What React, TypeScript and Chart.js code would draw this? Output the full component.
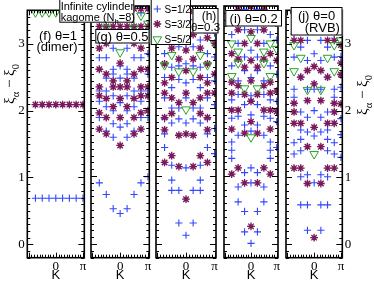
import React, { useEffect, useRef } from 'react';
import { Chart, registerables } from 'chart.js';
import { drawPoint } from 'chart.js/helpers';

Chart.register(...registerables);

type Pt = [number, number]; // [K / π, ξα − ξ0]

const yMin = -0.2;
const yMax = 3.5;
const kSpanPi = 1.05;
const yTickValues = [0, 1, 2, 3];
const xTickValuesPi = [0, 1];
const xTickLabels = ['0', 'π'];
const seriesLabels = ['S=1/2', 'S=3/2', 'S=5/2'];

// (f) θ=1 (dimer)
const fHalf: Pt[] = [[-0.75,0.69],[-0.5,0.69],[-0.25,0.69],[0,0.69],[0.25,0.69],[0.5,0.69],[0.75,0.69],[1,0.69]];
const fThree: Pt[] = [[-0.75,2.09],[-0.5,2.09],[-0.25,2.09],[0,2.09],[0.25,2.09],[0.5,2.09],[0.75,2.09],[1,2.09]];
const fFive: Pt[] = [[-0.75,3.47],[-0.5,3.47],[-0.25,3.47],[0,3.47],[0.25,3.47],[0.5,3.47],[0.75,3.47],[1,3.47]];

// (g) θ=0.5
const gHalf: Pt[] = [
  [0,0.45],[-0.25,0.52],[0.25,0.52],[-0.5,0.73],[0.5,0.73],[-0.75,0.90],[0.75,0.90],[1,0.99],
  [-0.25,1.57],[0.25,1.57],[-0.5,1.66],[0.5,1.66],[0,1.72],[-0.25,1.77],[0.25,1.77],[-0.75,1.86],[0.75,1.86],[1,1.86],
  [-0.25,1.96],[0.25,1.96],[-0.5,2.02],[0.5,2.02],[0,2.08],[-0.75,2.10],[0.75,2.10],
  [-0.25,2.18],[0.25,2.18],[-0.75,2.25],[0.75,2.25],[1,2.25],[-0.5,2.25],[0.5,2.25],
  [-0.5,2.44],[0.5,2.44],[0,2.44],[-0.25,2.50],[0.25,2.50],[-0.25,2.57],[0.25,2.57],[1,2.50],
  [-0.75,2.74],[0.75,2.74],[-0.5,2.74],[0.5,2.74],[0,2.62],[-0.25,2.88],[0.25,2.88],[1,2.80],
  [-0.75,3.08],[0.75,3.08],[0,3.10],[-0.5,3.15],[0.5,3.15],[1,3.12],[-0.25,3.28],[0.25,3.28],[-0.75,3.40],[0.75,3.40],
];
const gThree: Pt[] = [
  [0,1.45],[-0.5,1.62],[0.5,1.62],[-0.75,1.69],[0.75,1.69],[0,1.86],[-0.5,1.86],[0.5,1.86],[-0.75,1.93],[0.75,1.93],[1,1.96],
  [-0.25,2.02],[0.25,2.02],[0,2.14],[-0.5,2.14],[0.5,2.14],[-0.75,2.18],[0.75,2.18],[1,2.18],
  [-0.75,2.31],[0.75,2.31],[-0.25,2.31],[0.25,2.31],[0,2.31],[1,2.31],[-0.25,2.40],[0.25,2.40],
  [-0.5,2.50],[0.5,2.50],[-0.75,2.57],[0.75,2.57],[1,2.57],[0,2.66],[-0.75,2.88],[0.75,2.88],[-0.5,2.95],[0.5,2.95],
  [-0.75,3.20],[-0.5,3.20],[-0.25,3.20],[0,3.20],[0.25,3.20],[0.5,3.20],[0.75,3.20],[1,3.20],[-0.5,3.46],[0.5,3.46],[0.75,3.46],[1,3.46],
];
const gFive: Pt[] = [[0,2.82],[-0.5,3.18],[0.5,3.18],[1,3.24],[-0.75,3.36],[0.75,3.36],[-0.25,3.45],[0.25,3.45]];

// (h) θ=0.3
const hHalf: Pt[] = [
  [0,0.13],[-0.25,0.31],[0.25,0.31],[-0.25,0.79],[0.25,0.79],[-0.5,0.79],[0.5,0.79],[-0.5,0.94],[0.5,0.94],[0,1.12],[-0.5,1.16],[0.5,1.16],[-0.75,1.42],[0.75,1.42],[1,1.33],
  [-0.75,1.62],[0.75,1.62],[-0.5,1.78],[0.5,1.78],[0,1.78],[1,1.70],[-0.25,1.84],[0.25,1.84],[-0.75,1.84],[0.75,1.84],
  [-0.25,2.00],[0.25,2.00],[-0.5,2.00],[0.5,2.00],[1,2.05],[0,2.15],[-0.75,2.15],[0.75,2.15],
  [-0.5,2.30],[0.5,2.30],[0,2.37],[-0.25,2.42],[0.25,2.42],[1,2.40],[-0.75,2.45],[0.75,2.45],
  [-0.25,2.62],[0.25,2.62],[0,2.65],[-0.5,2.60],[0.5,2.60],[-0.75,2.80],[0.75,2.80],[1,2.75],
  [-0.25,2.90],[0.25,2.90],[0,2.95],[-0.5,3.00],[0.5,3.00],[-0.75,3.10],[0.75,3.10],[1,3.10],[0,3.25],[-0.25,3.30],[0.25,3.30],[-0.5,3.40],[0.5,3.40],
];
const hThree: Pt[] = [
  [0,0.66],[-0.25,1.14],[0.25,1.14],[-0.5,1.30],[0.5,1.30],[-0.75,1.20],[0.75,1.20],
  [-0.25,1.60],[0.25,1.60],[-0.75,1.68],[0.75,1.68],[0,1.62],[-0.75,1.86],[0.75,1.86],[-0.5,1.92],[0.5,1.92],
  [-0.25,2.08],[0.25,2.08],[-0.75,2.22],[0.75,2.22],[1,2.22],[0,2.22],[-0.5,2.15],[0.5,2.15],
  [-0.75,2.37],[0.75,2.37],[-0.5,2.45],[0.5,2.45],[0,2.55],[1,2.50],[-0.25,2.72],[0.25,2.72],[-0.75,2.65],[0.75,2.65],
  [-0.5,2.88],[0.5,2.88],[0,2.85],[-0.75,3.03],[0.75,3.03],[1,2.95],[-0.25,3.08],[0.25,3.08],[0,3.15],[-0.5,3.20],[0.5,3.20],[1,3.25],[-0.75,3.30],[0.75,3.30],[-0.25,3.42],[0.25,3.42],[0,3.48],
];
const hFive: Pt[] = [[0,1.98],[-0.25,2.54],[0.25,2.54],[-0.75,2.63],[0.75,2.63],[-0.5,2.78],[0.5,2.78],[1,2.95],[0.5,3.49]];

// (i) θ=0.2
const iHalf: Pt[] = [
  [0,0.01],[-0.25,0.18],[0.25,0.18],[-0.25,0.48],[0.25,0.48],[-0.5,0.62],[0.5,0.62],[0,0.90],[-0.5,0.84],[0.5,0.84],[-0.75,1.26],[0.75,1.26],[-0.75,1.38],[0.75,1.38],[-0.75,1.50],[0.75,1.50],[1,1.42],[0,1.12],[-0.25,1.05],[0.25,1.05],
  [-0.5,1.60],[0.5,1.60],[0,1.66],[-0.25,1.75],[0.25,1.75],[-0.5,1.88],[0.5,1.88],[1,1.80],[-0.75,1.85],[0.75,1.85],[0,1.90],
  [-0.25,2.05],[0.25,2.05],[-0.75,2.12],[0.75,2.12],[0,2.18],[-0.5,2.20],[0.5,2.20],[1,2.10],
  [-0.5,2.40],[0.5,2.40],[0,2.45],[-0.25,2.55],[0.25,2.55],[1,2.50],[-0.75,2.62],[0.75,2.62],
  [-0.25,2.75],[0.25,2.75],[0,2.85],[-0.5,2.95],[0.5,2.95],[-0.75,3.08],[0.75,3.08],[1,3.00],[-0.25,3.15],[0.25,3.15],[0,3.30],[-0.5,3.30],[0.5,3.30],[-0.25,3.45],[0.25,3.45],
];
const iThree: Pt[] = [
  [0,0.26],[-0.25,0.90],[0.25,0.90],[-0.75,1.03],[0.75,1.03],[-0.5,1.12],[0.5,1.12],
  [-0.25,1.63],[0.25,1.63],[-0.75,1.69],[0.75,1.69],[0,1.80],[-0.75,1.97],[0.75,1.97],[-0.5,1.97],[0.5,1.97],[1,1.95],
  [0,2.10],[-0.25,2.20],[0.25,2.20],[-0.75,2.22],[0.75,2.22],[1,2.25],[-0.5,2.33],[0.5,2.33],[0,2.40],[-0.75,2.38],[0.75,2.38],
  [-0.25,2.60],[0.25,2.60],[-0.5,2.72],[0.5,2.72],[0,2.70],[1,2.70],[-0.75,2.80],[0.75,2.80],[-0.25,2.95],[0.25,2.95],[0,3.12],[-0.5,3.15],[0.5,3.15],[-0.75,3.28],[0.75,3.28],[1,3.25],[-0.25,3.38],[0.25,3.38],[0,3.49],[-0.5,3.45],[0.5,3.45],
];
const iFive: Pt[] = [[0,1.57],[-0.25,2.29],[0.25,2.29],[-0.75,2.47],[0.75,2.47],[-0.5,2.66],[0.5,2.66],[-0.5,2.83],[0.5,2.83],[-0.75,2.95],[0.75,2.95],[1,2.87],[0,3.03]];

// (j) θ=0 (RVB)
const jHalf: Pt[] = [
  [-0.25,0.21],[0.25,0.21],[-0.5,0.59],[0.5,0.59],[-0.25,0.59],[0.25,0.59],[0,0.92],[-0.5,1.01],[0.5,1.01],[-0.25,1.04],[0.25,1.04],[-0.75,1.35],[0.75,1.35],[-0.5,1.40],[0.5,1.40],[1,1.30],
  [-0.5,1.57],[0.5,1.57],[-0.75,1.52],[0.75,1.52],[0,1.62],[-0.25,1.68],[0.25,1.68],[-0.5,1.71],[0.5,1.71],[1,1.64],
  [-0.5,1.98],[0.5,1.98],[-0.25,1.90],[0.25,1.90],[0,2.00],[1,1.88],[-0.75,2.20],[0.75,2.20],
  [-0.75,2.32],[0.75,2.32],[-0.25,2.32],[0.25,2.32],[0,2.32],[1,2.35],[-0.5,2.50],[0.5,2.50],
  [-0.25,2.75],[0.25,2.75],[0,2.85],[-0.75,2.80],[0.75,2.80],[1,2.81],[-0.5,2.95],[0.5,2.95],[-0.25,3.05],[0.25,3.05],[0,3.18],[-0.75,3.15],[0.75,3.15],[1,3.20],[-0.5,3.30],[0.5,3.30],[0,3.42],[-0.25,3.45],[0.25,3.45],
];
const jThree: Pt[] = [
  [0,0.10],[-0.25,0.91],[0.25,0.91],[-0.75,1.14],[0.75,1.14],[-0.5,1.14],[0.5,1.14],[-0.25,1.46],[0.25,1.46],
  [-0.75,1.81],[-0.5,1.81],[0.5,1.81],[0.75,1.81],[0,1.75],[-0.75,1.98],[0.75,1.98],[-0.75,2.11],[0.75,2.11],[1,2.10],[-0.25,2.15],[0.25,2.15],
  [0,2.40],[-0.5,2.50],[0.5,2.50],[1,2.54],[0,2.66],[-0.25,2.60],[0.25,2.60],[1,2.71],
  [-0.75,3.05],[-0.5,3.05],[0.5,3.05],[0.75,3.05],[1,2.98],[-0.25,3.20],[0.25,3.20],[0,3.30],[-0.75,3.45],[-0.5,3.45],[0.5,3.45],[0.75,3.45],[1,3.46],[0,3.48],
];
const jFive: Pt[] = [[0,1.35],[-0.25,2.31],[0.25,2.31],[-0.75,2.59],[0.75,2.59],[-0.5,2.79],[0.5,2.79],[-0.75,2.98],[0.75,2.98],[1,3.05]];

// ---------- styling ----------
const SANS = '"Liberation Sans", Arial, Helvetica, sans-serif';
const SERIF = '"Liberation Serif", "Times New Roman", serif';
const BLUE = 'rgb(50,70,255)';
const PURPLE = 'rgb(120,25,90)';
const PINK = 'rgba(205,140,190,0.75)';
const GREEN = 'rgb(40,165,40)';
const H = 281;
const PLOT_TOP = 3;
const X_AXIS_H = 23.3;

const markerStyles = [
  { pointStyle: 'cross', radius: 3.6, rotation: 0, borderWidth: 1.1, color: BLUE },
  { pointStyle: 'star', radius: 3.9, rotation: 0, borderWidth: 1.3, color: PURPLE },
  { pointStyle: 'triangle', radius: 5, rotation: 180, borderWidth: 1, color: GREEN },
];
const haloStyle = { pointStyle: 'circle', radius: 2.6 };

type Part = { t: string; sub?: boolean };

function drawRich(ctx: CanvasRenderingContext2D, parts: Part[], x: number, y: number, size: number, family: string, align: 'left' | 'center' | 'right' = 'left') {
  const subSize = size * 0.7;
  const fontOf = (p: Part) => `${p.sub ? subSize : size}px ${family}`;
  let total = 0;
  for (const p of parts) { ctx.font = fontOf(p); total += ctx.measureText(p.t).width; }
  let cx = align === 'left' ? x : align === 'center' ? x - total / 2 : x - total;
  ctx.textAlign = 'left';
  ctx.textBaseline = 'alphabetic';
  for (const p of parts) {
    ctx.font = fontOf(p);
    ctx.fillText(p.t, cx, p.sub ? y + size * 0.3 : y);
    cx += ctx.measureText(p.t).width;
  }
}

function box(ctx: CanvasRenderingContext2D, x0: number, y0: number, x1: number, y1: number) {
  ctx.fillStyle = '#fff';
  ctx.fillRect(x0, y0, x1 - x0, y1 - y0);
  ctx.strokeStyle = '#000';
  ctx.lineWidth = 1;
  ctx.strokeRect(x0 + 0.5, y0 + 0.5, x1 - x0 - 1, y1 - y0 - 1);
  ctx.fillStyle = '#000';
}

const yTitleParts: Part[] = [{ t: 'ξ' }, { t: 'α', sub: true }, { t: ' − ' }, { t: 'ξ' }, { t: '0', sub: true }];

function yTitle(ctx: CanvasRenderingContext2D, x: number, y: number) {
  ctx.save();
  ctx.translate(x, y);
  ctx.rotate(-Math.PI / 2);
  ctx.fillStyle = '#000';
  drawRich(ctx, yTitleParts, 0, 0, 15, SERIF, 'center');
  ctx.restore();
}

type Panel = {
  id: string;
  half: Pt[]; three: Pt[]; five: Pt[];
  cl: number; cw: number; padL: number; padR: number;
  yAxis: 'left' | 'right' | null; yAxisW: number;
  overlay: (ctx: CanvasRenderingContext2D, ox: number) => void;
};

const panels: Panel[] = [
  {
    id: 'f', half: fHalf, three: fThree, five: fFive,
    cl: 0, cw: 92, padL: 0, padR: 7.7, yAxis: 'left', yAxisW: 27.3,
    overlay: (ctx, ox) => {
      ctx.fillStyle = '#000';
      drawRich(ctx, [{ t: '(f) θ=1' }], 58 - ox, 39.5, 13, SANS, 'center');
      drawRich(ctx, [{ t: '(dimer)' }], 57 - ox, 51, 13, SANS, 'center');
      yTitle(ctx, 14 - ox, 84);
    },
  },
  {
    id: 'g', half: gHalf, three: gThree, five: gFive,
    cl: 56, cw: 100, padL: 35, padR: 6.7, yAxis: null, yAxisW: 0,
    overlay: (ctx, ox) => {
      box(ctx, 59.3 - ox, -1, 134.3 - ox, 22.7);
      drawRich(ctx, [{ t: 'Infinite cylinder' }], 60.7 - ox, 9.5, 11, SANS);
      drawRich(ctx, [{ t: 'kagome (N' }, { t: 'h', sub: true }, { t: '=8)' }], 60.7 - ox, 20.6, 11, SANS);
      box(ctx, 95.3 - ox, 29, 149.5 - ox, 43.5);
      drawRich(ctx, [{ t: '(g) θ=0.5' }], 122.4 - ox, 40.8, 13, SANS, 'center');
    },
  },
  {
    id: 'h', half: hHalf, three: hThree, five: hFive,
    cl: 148, cw: 74, padL: 8, padR: 5.5, yAxis: null, yAxisW: 0,
    overlay: (ctx, ox) => {
      box(ctx, 150.7 - ox, -1, 191 - ox, 45);
      const rowsY = [9, 24, 39.3];
      rowsY.forEach((ry, i) => {
        const m = markerStyles[i];
        ctx.save();
        if (i === 1) {
          ctx.fillStyle = PINK;
          ctx.strokeStyle = 'rgba(0,0,0,0)';
          drawPoint(ctx, { pointStyle: 'circle', radius: haloStyle.radius, rotation: 0, borderWidth: 0 } as any, 157.3 - ox, ry);
        }
        ctx.strokeStyle = m.color;
        ctx.fillStyle = 'rgba(0,0,0,0)';
        ctx.lineWidth = m.borderWidth;
        drawPoint(ctx, { pointStyle: m.pointStyle as any, radius: m.radius, rotation: m.rotation, borderWidth: m.borderWidth }, 157.3 - ox, ry);
        ctx.restore();
        ctx.fillStyle = '#000';
        drawRich(ctx, [{ t: seriesLabels[i] }], 164.5 - ox, ry + 3.6, 10, SANS);
      });
      box(ctx, 192.5 - ox, 8, 218.5 - ox, 33.5);
      drawRich(ctx, [{ t: '(h)' }], 209 - ox, 19.5, 12, SANS, 'center');
      drawRich(ctx, [{ t: 'θ=0.3' }], 205.5 - ox, 30.5, 11.5, SANS, 'center');
    },
  },
  {
    id: 'i', half: iHalf, three: iThree, five: iFive,
    cl: 218, cw: 68, padL: 3, padR: 8, yAxis: null, yAxisW: 0,
    overlay: (ctx, ox) => {
      box(ctx, 225.3 - ox, 10, 282 - ox, 26.5);
      drawRich(ctx, [{ t: '(i) θ=0.2' }], 253.6 - ox, 22.8, 13, SANS, 'center');
    },
  },
  {
    id: 'j', half: jHalf, three: jThree, five: jFive,
    cl: 280, cw: 94, padL: 4.5, padR: 0, yAxis: 'right', yAxisW: 31.7,
    overlay: (ctx, ox) => {
      box(ctx, 290.7 - ox, 7, 342.5 - ox, 35.5);
      drawRich(ctx, [{ t: '(j) θ=0' }], 316.5 - ox, 19.8, 13, SANS, 'center');
      drawRich(ctx, [{ t: '(RVB)' }], 322.3 - ox, 31.8, 13, SANS, 'center');
      yTitle(ctx, 367 - ox, 95);
    },
  },
];

function makeConfig(p: Panel): any {
  const toXY = (a: Pt[]) => a.map(([k, e]) => ({ x: k * Math.PI, y: e }));
  const series = [p.half, p.three, p.five];
  const datasets: any[] = series.map((arr, i) => {
    const m = markerStyles[i];
    return {
      label: seriesLabels[i],
      data: toXY(arr),
      showLine: false,
      clip: 0,
      order: 3 - i,
      pointStyle: m.pointStyle,
      pointRadius: m.radius,
      pointRotation: m.rotation,
      pointBorderWidth: m.borderWidth,
      pointBorderColor: m.color,
      pointBackgroundColor: 'rgba(0,0,0,0)',
      borderColor: m.color,
      backgroundColor: 'rgba(0,0,0,0)',
    };
  });
  // soft pink core behind the S=3/2 asterisks
  datasets.push({
    label: 'S=3/2 core',
    data: toXY(p.three),
    showLine: false,
    clip: 0,
    order: 2.5,
    pointStyle: haloStyle.pointStyle,
    pointRadius: haloStyle.radius,
    pointBorderWidth: 0,
    pointBackgroundColor: PINK,
    pointBorderColor: 'rgba(0,0,0,0)',
  });

  const framePlugin = {
    id: 'frame' + p.id,
    afterDraw(chart: any) {
      const { ctx, chartArea } = chart;
      const { left, right, top, bottom } = chartArea;
      const xs = chart.scales.x;
      const ys = chart.scales.y;
      ctx.save();
      ctx.strokeStyle = '#000';
      ctx.lineWidth = 1;
      ctx.beginPath();
      for (let i = Math.ceil(yMin * 10); i <= Math.floor(yMax * 10); i++) {
        const py = Math.round(ys.getPixelForValue(i / 10)) + 0.5;
        const len = i % 10 === 0 ? 6 : 3;
        ctx.moveTo(left, py); ctx.lineTo(left + len, py);
        ctx.moveTo(right, py); ctx.lineTo(right - len, py);
      }
      for (let i = -10; i <= 10; i++) {
        const px = Math.round(xs.getPixelForValue((i * Math.PI) / 10)) + 0.5;
        const len = i % 10 === 0 ? 5 : 3;
        ctx.moveTo(px, bottom); ctx.lineTo(px, bottom - len);
        ctx.moveTo(px, top); ctx.lineTo(px, top + len);
      }
      ctx.stroke();
      ctx.lineWidth = 1.6;
      ctx.strokeRect(left, top, right - left, bottom - top);
      ctx.restore();
      ctx.save();
      p.overlay(ctx, p.cl);
      ctx.restore();
    },
  };

  const yScale: any = {
    type: 'linear',
    min: yMin,
    max: yMax,
    display: p.yAxis !== null,
    position: p.yAxis === 'right' ? 'right' : 'left',
    afterBuildTicks: (s: any) => { s.ticks = yTickValues.map((v) => ({ value: v })); },
    ticks: { font: { family: SERIF, size: 13 }, color: '#000', padding: 2.5, callback: (v: number) => String(v) },
    grid: { display: false, drawTicks: false },
    border: { display: false },
    afterFit: (s: any) => { s.width = p.yAxisW; },
  };

  return {
    type: 'scatter',
    data: { datasets },
    plugins: [framePlugin],
    options: {
      responsive: false,
      maintainAspectRatio: false,
      animation: false,
      events: [],
      layout: { padding: { left: p.padL, right: p.padR, top: PLOT_TOP, bottom: 0 } },
      plugins: { legend: { display: false }, tooltip: { enabled: false } },
      scales: {
        x: {
          type: 'linear',
          min: -kSpanPi * Math.PI,
          max: kSpanPi * Math.PI,
          position: 'bottom',
          afterBuildTicks: (s: any) => { s.ticks = xTickValuesPi.map((v) => ({ value: v * Math.PI })); },
          ticks: {
            font: { family: SERIF, size: 13 }, color: '#000', padding: 1, maxRotation: 0, autoSkip: false,
            callback: (_v: number, i: number) => xTickLabels[i],
          },
          grid: { display: false, drawTicks: false },
          border: { display: false },
          title: { display: true, text: 'K', color: '#000', font: { family: SANS, size: 13, lineHeight: 0.8 }, padding: { top: 0, bottom: 0 } },
          afterFit: (s: any) => { s.height = X_AXIS_H; },
        },
        y: yScale,
      },
    },
  };
}

function PanelChart({ p }: { p: Panel }) {
  const ref = useRef<HTMLCanvasElement | null>(null);
  useEffect(() => {
    if (!ref.current) return;
    const chart = new Chart(ref.current, makeConfig(p));
    return () => chart.destroy();
  }, [p]);
  return (
    <canvas
      ref={ref}
      width={p.cw}
      height={H}
      style={{ position: 'absolute', left: p.cl, top: 0, width: p.cw, height: H }}
    />
  );
}

export default function App() {
  return (
    <div style={{ position: 'absolute', left: 0, top: 0, width: 374, height: H, background: '#fff', overflow: 'hidden' }}>
      {panels.map((p) => (
        <PanelChart key={p.id} p={p} />
      ))}
    </div>
  );
}
